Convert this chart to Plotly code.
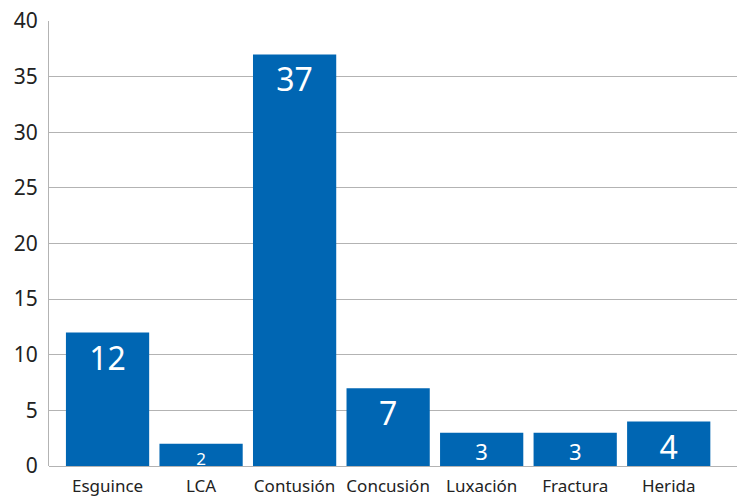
import plotly.graph_objects as go

categories = ["Esguince", "LCA", "Contusión", "Concusión", "Luxación", "Fractura", "Herida"]
values = [12, 2, 37, 7, 3, 3, 4]
label_sizes = [32, 17, 32, 32, 22, 22, 32]

BLUE = "#0066b3"
GRID = "#b3b3b3"
FONT = "Noto Sans, Lato, sans-serif"

fig = go.Figure(
    go.Bar(
        x=categories,
        y=values,
        marker=dict(color=BLUE, line=dict(width=0)),
        text=[str(v) for v in values],
        textposition="inside",
        insidetextanchor="end",
        textangle=0,
        textfont=dict(color="white", size=label_sizes, family=FONT),
        constraintext="none",
        cliponaxis=False,
    )
)

fig.update_layout(
    width=737,
    height=498,
    margin=dict(l=49, r=0, t=21, b=32),
    paper_bgcolor="white",
    plot_bgcolor="white",
    bargap=0.11,
    showlegend=False,
    font=dict(family=FONT, color="#222222"),
)

fig.update_xaxes(
    range=[-0.626, 6.73],
    showgrid=False,
    showline=False,
    ticks="",
    ticklabelstandoff=8,
    tickfont=dict(size=17, color="#222222"),
)

fig.update_yaxes(
    range=[0, 40],
    dtick=5,
    showgrid=True,
    gridcolor=GRID,
    gridwidth=1,
    zeroline=True,
    zerolinecolor=GRID,
    zerolinewidth=1,
    showline=True,
    linecolor=GRID,
    linewidth=1,
    ticks="",
    ticklabelstandoff=6,
    tickfont=dict(size=21, color="#222222"),
)

fig.write_html("out.html")
